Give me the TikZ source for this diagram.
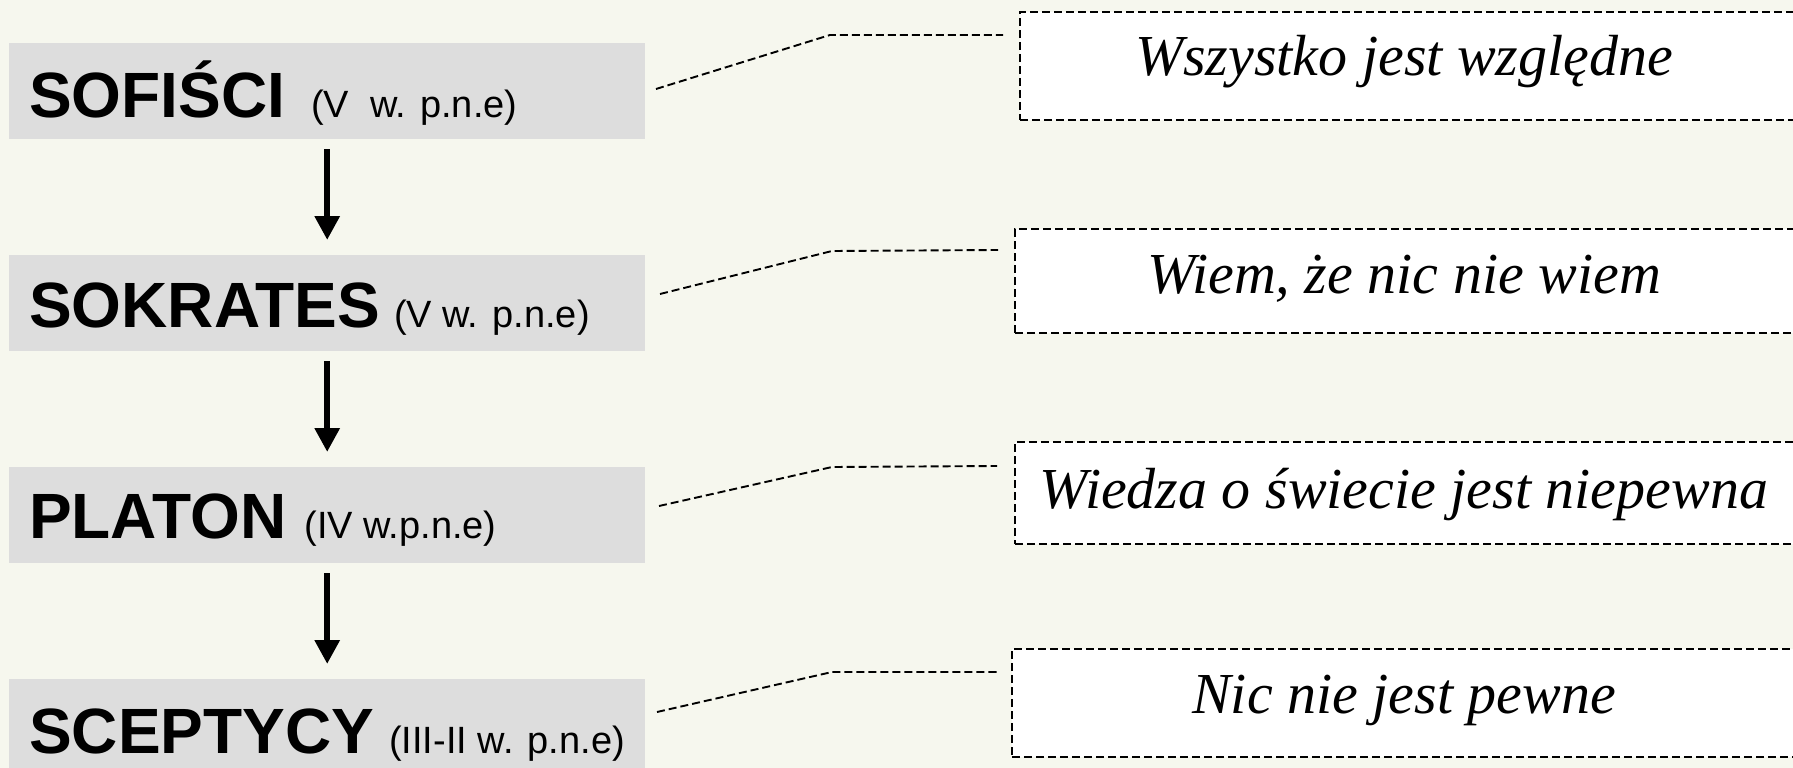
\documentclass[tikz,border=0pt]{standalone}
\usepackage{fontspec}
\setmainfont{Liberation Serif}
\setsansfont{Liberation Sans}
\usetikzlibrary{arrows.meta}
\definecolor{bgc}{HTML}{F6F7EE}
\definecolor{boxgray}{HTML}{DDDDDD}
\newcommand\bigname[1]{{\fontsize{64}{64}\selectfont\bfseries #1}}
\newcommand\era[1]{{\fontsize{38}{38}\selectfont #1}}
\tikzset{
  leftbox/.style={rectangle, fill=boxgray, draw=none, anchor=north west,
    minimum width=636pt, minimum height=96pt, inner sep=0pt},
  quotebox/.style={rectangle, fill=white, draw=black, line width=1.9pt,
    dash pattern=on 8pt off 4pt, anchor=north west, inner sep=0pt},
  lefttext/.style={anchor=base west, inner sep=0pt, font=\sffamily},
  quotetext/.style={anchor=base, inner sep=0pt, font=\itshape\fontsize{58}{58}\selectfont},
  conn/.style={line width=1.9pt, dash pattern=on 8pt off 4pt},
  arr/.style={line width=6pt, -{Triangle[length=24pt,width=24pt]},
    shorten <=10pt, shorten >=15pt}
}
\begin{document}
\begin{tikzpicture}[x=1pt,y=-1pt]
\fill[bgc] (0,0) rectangle (1793,768);
\useasboundingbox (0,0) rectangle (1793,768);
% left boxes
\node[leftbox] (lb1) at (9,43) {};
\node[leftbox] (lb2) at (9,255) {};
\node[leftbox] (lb3) at (9,467) {};
\node[leftbox] (lb4) at (9,679) {};
\node[lefttext] (t1) at (29,117) {\bigname{SOFIŚCI}\hspace{26pt}\era{(V\ \ w. p.n.e)}};
\node[lefttext] (t2) at (29,327) {\bigname{SOKRATES}\hspace{14pt}\era{(V w. p.n.e)}};
\node[lefttext] (t3) at (29,538) {\bigname{PLATON}\hspace{18pt}\era{(IV w.p.n.e)}};
\node[lefttext] (t4) at (29,753) {\bigname{SCEPTYCY}\hspace{15pt}\era{(III-II w. p.n.e)}};
% arrows
\draw[arr] (lb1) -- (lb2);
\draw[arr] (lb2) -- (lb3);
\draw[arr] (lb3) -- (lb4);
% quote boxes
\node[quotebox, minimum width=777pt, minimum height=108pt] (q1) at (1019,11) {};
\node[quotebox, minimum width=782pt, minimum height=104pt] (q2) at (1014,228) {};
\node[quotebox, minimum width=782pt, minimum height=102pt] (q3) at (1014,441) {};
\node[quotebox, minimum width=785pt, minimum height=108pt] (q4) at (1011,648) {};
\node[quotetext] (qt1) at (1404,76) {Wszystko jest względne};
\node[quotetext] (qt2) at (1404,293) {Wiem, że nic nie wiem};
\node[quotetext] (qt3) at (1404,508) {Wiedza o świecie jest niepewna};
\node[quotetext] (qt4) at (1404,713) {Nic nie jest pewne};
% connectors
\coordinate (s1) at (656,89);  \coordinate (k1) at (830,35);  \coordinate (e1) at (1003,35);
\coordinate (s2) at (660,294); \coordinate (k2) at (832,251); \coordinate (e2) at (998,250);
\coordinate (s3) at (659,506); \coordinate (k3) at (832,467); \coordinate (e3) at (997,466);
\coordinate (s4) at (657,712); \coordinate (k4) at (832,672); \coordinate (e4) at (997,672);
\draw[conn] (s1) -- (k1) -- (e1);
\draw[conn] (s2) -- (k2) -- (e2);
\draw[conn] (s3) -- (k3) -- (e3);
\draw[conn] (s4) -- (k4) -- (e4);
\end{tikzpicture}
\end{document}
